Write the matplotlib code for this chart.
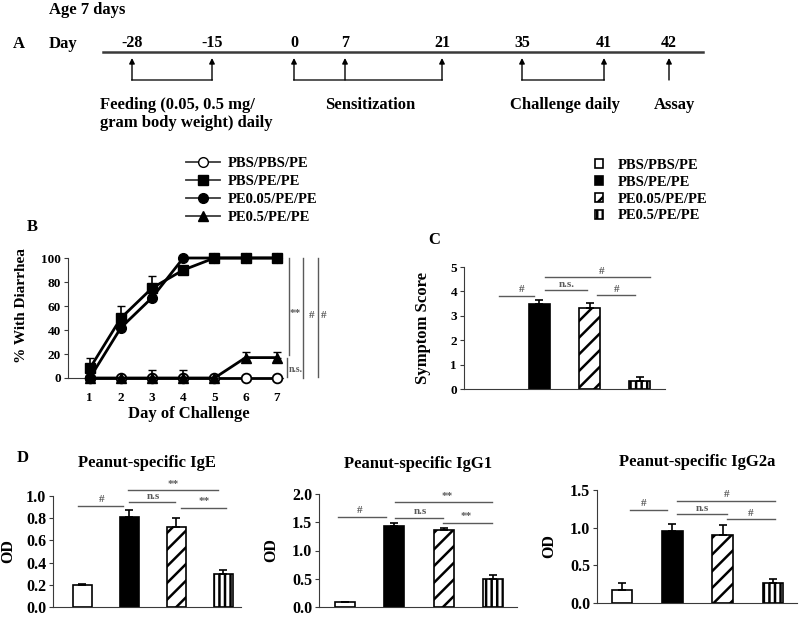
import matplotlib
matplotlib.use('Agg')
import matplotlib.pyplot as plt
import numpy as np
from matplotlib.lines import Line2D
from matplotlib.patches import Patch

plt.rcParams['font.family'] = 'Liberation Serif'
plt.rcParams['font.weight'] = 'bold'
plt.rcParams['axes.titleweight'] = 'bold'
plt.rcParams['axes.labelweight'] = 'bold'
plt.rcParams['hatch.linewidth'] = 1.8

W, H = 800, 617  # figure size in px

# ---- data ----
# A: timeline
days = ['-28', '-15', '0', '7', '21', '35', '41', '42']
day_x = [132, 212, 294, 345, 442, 522, 604, 669]
brackets = [(0, 1), (2, 4), (5, 6)]
stages = ['Feeding (0.05, 0.5 mg/\ngram body weight) daily', 'Sensitization',
          'Challenge daily', 'Assay']
stage_x = [100, 325, 510, 654]

# B: % with diarrhea
challenge_day = [1, 2, 3, 4, 5, 6, 7]
pbs_pbs = [0, 0, 0, 0, 0, 0, 0]
pbs_pe = [8, 50, 75, 90, 100, 100, 100]
pbs_pe_err = [9, 10, 10, 0, 0, 0, 0]
pe005 = [0, 42, 67, 100, 100, 100, 100]
pe05 = [0, 0, 0, 0, 0, 17, 17]
pe05_err = [0, 0, 7, 7, 0, 5, 5]

# C, D: bar panels
groups = ['PBS/PBS/PE', 'PBS/PE/PE', 'PE0.05/PE/PE', 'PE0.5/PE/PE']
symptom = [0, 3.48, 3.33, 0.33]
symptom_err = [0, 0.17, 0.19, 0.17]
ige = [0.20, 0.815, 0.725, 0.30]
ige_err = [0.01, 0.06, 0.075, 0.03]
igg1 = [0.08, 1.44, 1.36, 0.49]
igg1_err = [0.01, 0.04, 0.04, 0.07]
igg2a = [0.17, 0.95, 0.90, 0.26]
igg2a_err = [0.09, 0.10, 0.13, 0.06]

# significance: (x0, x1, y, label, label_x)
sig_c = [(0.2, 0.9, 3.82, '#', 0.64), (1.12, 1.94, 4.06, 'n.s.', 1.54),
         (2.14, 2.9, 3.84, '#', 2.54), (1.12, 3.2, 4.58, '#', 2.24)]
sig_ige = [(-0.08, 0.86, 0.913, '#', 0.42), (0.97, 2.9, 1.05, '**', 1.94),
           (0.99, 1.98, 0.946, 'n.s', 1.52), (2.1, 3.07, 0.896, '**', 2.6)]
sig_igg1 = [(-0.14, 0.83, 1.6, '#', 0.3), (1.01, 2.97, 1.85, '**', 2.06),
            (1.01, 1.98, 1.58, 'n.s', 1.52), (1.98, 2.97, 1.49, '**', 2.46)]
sig_igg2a = [(0.16, 0.89, 1.24, '#', 0.42), (1.09, 3.05, 1.36, '#', 2.08),
             (1.09, 2.08, 1.18, 'n.s', 1.6), (2.08, 3.05, 1.11, '#', 2.55)]

fills = ['white', 'black', 'white', 'white']
hatches = [None, None, '//', '|||']
AX = '#3a3a3a'
SIG = '#5a5a5a'
BOLD = dict(family='Liberation Serif', weight='bold')


def rect(l, t, r, b):
    return [l / W, 1 - b / H, (r - l) / W, (b - t) / H]


def px(x, y):
    return x / W, 1 - y / H


fig = plt.figure(figsize=(8.0, 6.17), dpi=100)

# ---- A: timeline (drawn in pixel space) ----
axa = fig.add_axes([0, 0, 1, 1])
axa.set_xlim(0, W)
axa.set_ylim(H, 0)
axa.axis('off')
axa.text(49, 10, 'Age 7 days', fontsize=12, va='center', fontweight='bold')
axa.text(13, 44, 'A', fontsize=12, va='center', fontweight='bold')
axa.text(49, 44, 'Day', fontsize=12, va='center', fontweight='bold')
axa.plot([103, 703], [52, 52], color=AX, lw=1.8)
for d, x in zip(days, day_x):
    axa.text(x, 43, d, fontsize=11.5, ha='center', va='center', fontweight='bold')
    axa.annotate('', xy=(x, 58), xytext=(x, 80),
                 arrowprops=dict(arrowstyle='-|>', color='black', lw=1.0,
                                 mutation_scale=8, shrinkA=0, shrinkB=0))
for i, j in brackets:
    axa.plot([day_x[i], day_x[j]], [80, 80], color=AX, lw=1.2)
for s, x in zip(stages, stage_x):
    axa.text(x, 97, s, fontsize=12, va='top', linespacing=1.15, fontweight='bold')

# ---- B: % with diarrhea ----
axb = fig.add_axes(rect(68, 258, 283, 378))
axb.errorbar(challenge_day, pbs_pbs, color='black', lw=2, marker='o', ms=7,
             mfc='white', mec='black', mew=1.3, clip_on=False, zorder=3)
axb.errorbar(challenge_day, pe05, yerr=[np.zeros(7), pe05_err], color='black',
             lw=2, marker='^', ms=7, capsize=3, elinewidth=1.2, clip_on=False, zorder=4)
axb.errorbar(challenge_day, pe005, color='black', lw=2, marker='o', ms=7,
             clip_on=False, zorder=5)
axb.errorbar(challenge_day, pbs_pe, yerr=[np.zeros(7), pbs_pe_err], color='black',
             lw=2, marker='s', ms=7, capsize=3, elinewidth=1.2, clip_on=False, zorder=6)
axb.set_xlim(0.3, 7.2)
axb.set_ylim(0, 100)
axb.set_xticks(challenge_day)
axb.set_yticks(range(0, 101, 20))
for s in ['top', 'right']:
    axb.spines[s].set_visible(False)
for s in ['left', 'bottom']:
    axb.spines[s].set_color(AX)
axb.tick_params(axis='x', length=0, labelsize=9.5, pad=10)
axb.tick_params(axis='y', length=3, color=AX, labelsize=9.5, pad=2)
for t in axb.get_xticklabels() + axb.get_yticklabels():
    t.set_fontweight('bold')
axb.set_xlabel('Day of Challenge', fontsize=12, fontweight='bold')
axb.xaxis.set_label_coords(0.56, -0.23)
axb.set_ylabel('% With Diarrhea', fontsize=11, fontweight='bold')
axb.yaxis.set_label_coords(-0.185, 0.6)
for x, y0 in [(7.38, 19), (7.83, 0), (8.31, 1)]:
    axb.plot([x, x], [y0, 100], color=SIG, lw=1.0, clip_on=False)
axb.plot([7.32, 7.32], [1, 17], color=SIG, lw=1.0, clip_on=False)
axb.text(7.58, 54, '**', fontsize=8, color=SIG, ha='center', va='center')
axb.text(8.12, 52, '#', fontsize=8, color=SIG, ha='center', va='center')
axb.text(8.52, 52, '#', fontsize=8, color=SIG, ha='center', va='center')
axb.text(7.38, 7, 'n.s.', fontsize=7, color=SIG, ha='left', va='center')
fig.text(*px(27, 227), 'B', fontsize=12, va='center', fontweight='bold')

b_handles = [
    Line2D([], [], color=AX, lw=1.3, marker='o', ms=7, mfc='white', mec='black'),
    Line2D([], [], color=AX, lw=1.3, marker='s', ms=7, mfc='black', mec='black'),
    Line2D([], [], color=AX, lw=1.3, marker='o', ms=7, mfc='black', mec='black'),
    Line2D([], [], color=AX, lw=1.3, marker='^', ms=7, mfc='black', mec='black'),
]
fig.legend(b_handles, groups, loc='upper left', bbox_to_anchor=px(186, 157),
           frameon=False, prop=dict(BOLD, size=10.5), handlelength=2.3,
           handletextpad=0.55, labelspacing=0.32, borderpad=0, borderaxespad=0)

c_handles = [Patch(facecolor=f, edgecolor='black', hatch=h, lw=1.2)
             for f, h in zip(fills, hatches)]
fig.legend(c_handles, groups, loc='upper left', bbox_to_anchor=px(595, 159),
           frameon=False, prop=dict(BOLD, size=10.5), handlelength=0.55,
           handleheight=0.55, handletextpad=1.0, labelspacing=0.26,
           borderpad=0, borderaxespad=0)


def bar_panel(ax, vals, errs, top, ticks, fmt, xlim, width, sigs, tsize):
    x = np.arange(len(vals))
    bars = ax.bar(x, vals, width=width, color=fills, edgecolor='black',
                  linewidth=1.2, zorder=2)
    for b, h, v in zip(bars, hatches, vals):
        if h:
            b.set_hatch(h)
        if v == 0:
            b.set_visible(False)
    keep = [i for i in x if vals[i] > 0]
    ax.errorbar(x[keep], np.array(vals)[keep],
                yerr=[np.zeros(len(keep)), np.array(errs)[keep]], fmt='none',
                ecolor='black', elinewidth=1.2, capsize=3, capthick=1.2, zorder=3)
    ax.set_xlim(*xlim)
    ax.set_ylim(0, top)
    ax.set_yticks(ticks)
    ax.set_yticklabels([fmt % t for t in ticks], fontweight='bold')
    for s in ['top', 'right']:
        ax.spines[s].set_visible(False)
    for s in ['left', 'bottom']:
        ax.spines[s].set_color(AX)
    ax.tick_params(axis='x', length=0, labelbottom=False)
    ax.tick_params(axis='y', length=3, color=AX, labelsize=tsize, pad=2)
    for x0, x1, y, lab, lx in sigs:
        ax.plot([x0, x1], [y, y], color=SIG, lw=1.0, clip_on=False)
        ax.annotate(lab, (lx, y), xytext=(0, 1), textcoords='offset points',
                    fontsize=8, color=SIG, ha='center', va='bottom',
                    annotation_clip=False)


# ---- C: symptom score ----
axc = fig.add_axes(rect(464, 267, 665, 389))
bar_panel(axc, symptom, symptom_err, 5, range(6), '%d', (-0.5, 3.5), 0.42, sig_c, 9.5)
axc.set_ylabel('Symptom Score', fontsize=12, fontweight='bold')
axc.yaxis.set_label_coords(-0.165, 0.5)
fig.text(*px(428, 240), 'C', fontsize=12, va='center', fontweight='bold')

# ---- D: antibodies ----
axd1 = fig.add_axes(rect(53, 496, 241, 607))
bar_panel(axd1, ige, ige_err, 1.0, np.arange(0, 1.01, 0.2), '%.1f', (-0.62, 3.38), 0.41,
          sig_ige, 11.5)
axd1.set_ylabel('OD', fontsize=11.5, fontweight='bold')
axd1.yaxis.set_label_coords(-0.195, 0.5)
axd1.set_title('Peanut-specific IgE', fontsize=12, pad=21, fontweight='bold')
fig.text(*px(17, 458), 'D', fontsize=12, va='center', fontweight='bold')

axd2 = fig.add_axes(rect(319, 494, 517, 607))
bar_panel(axd2, igg1, igg1_err, 2.0, np.arange(0, 2.01, 0.5), '%.1f', (-0.52, 3.48), 0.41,
          sig_igg1, 11.5)
axd2.set_ylabel('OD', fontsize=11.5, fontweight='bold')
axd2.yaxis.set_label_coords(-0.2, 0.5)
axd2.set_title('Peanut-specific IgG1', fontsize=12, pad=19, fontweight='bold')

axd3 = fig.add_axes(rect(597, 490, 797, 603))
bar_panel(axd3, igg2a, igg2a_err, 1.5, np.arange(0, 1.51, 0.5), '%.1f', (-0.5, 3.48), 0.41,
          sig_igg2a, 11.5)
axd3.set_ylabel('OD', fontsize=11.5, fontweight='bold')
axd3.yaxis.set_label_coords(-0.2, 0.5)
axd3.set_title('Peanut-specific IgG2a', fontsize=12, pad=17, fontweight='bold')

fig.savefig('out.png', dpi=100)
